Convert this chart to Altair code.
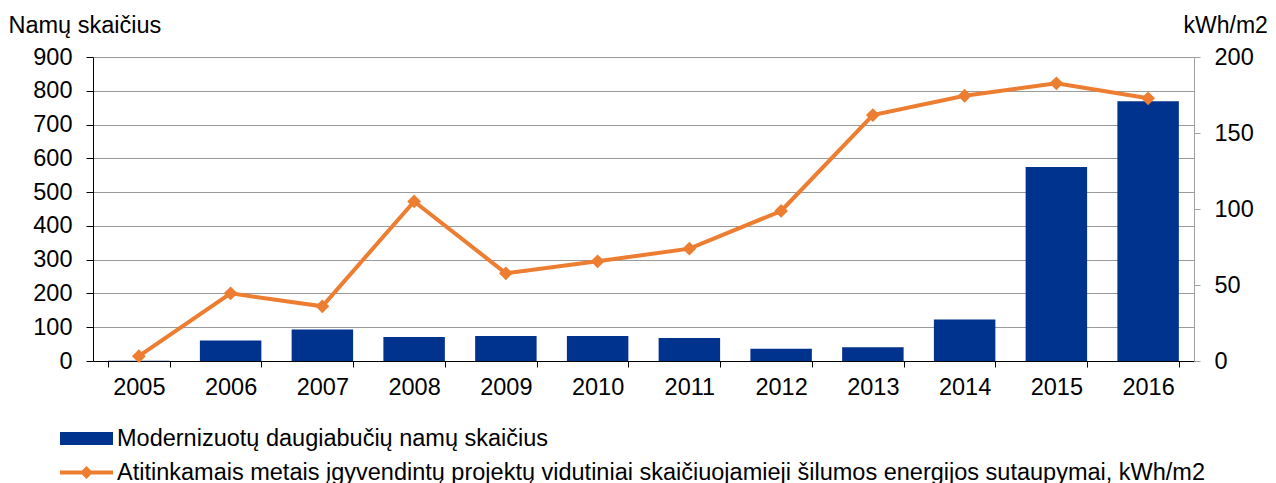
import altair as alt
import pandas as pd

years = ["2005", "2006", "2007", "2008", "2009", "2010", "2011", "2012", "2013", "2014", "2015", "2016"]
houses = [1, 61, 93, 71, 74, 74, 68, 36, 41, 123, 574, 769]
savings = [3.2, 44.5, 36, 105, 57.7, 65.6, 73.9, 98.7, 161.8, 174.5, 182.7, 172.8]

bar_label = "Modernizuotų daugiabučių namų skaičius"
line_label = "Atitinkamais metais įgyvendintų projektų vidutiniai skaičiuojamieji šilumos energijos sutaupymai, kWh/m2"

left_title = "Namų skaičius"
right_title = "kWh/m2"

BLUE = "#00338d"
ORANGE = "#ed7d31"
FONT = "Liberation Sans"
FS = 23.5

df = pd.DataFrame({"year": years, "houses": houses, "savings": savings,
                   "s1": bar_label, "s2": line_label})

x = alt.X("year:O",
          scale=alt.Scale(paddingInner=0.33, paddingOuter=0.165),
          axis=alt.Axis(title=None, labelAngle=0, tickBand="extent", labelFontSize=FS,
                        labelColor="#000", tickSize=6, tickColor="#000", domainColor="#000",
                        labelPadding=8, grid=False))

bars = alt.Chart(df).mark_bar().encode(
    x=x,
    y=alt.Y("houses:Q",
            scale=alt.Scale(domain=[0, 900], nice=False),
            axis=alt.Axis(values=list(range(0, 901, 100)), title=left_title, titleAngle=0,
                          titleAlign="left", titleBaseline="alphabetic", titleX=-85, titleY=-25,
                          titleFontSize=FS, titleFontWeight="normal", titleColor="#000",
                          labelFontSize=FS, labelColor="#000", tickSize=7, tickColor="#000",
                          domainColor="#000", gridColor="#9a9a9a", labelPadding=14)),
    color=alt.Color("s1:N", scale=alt.Scale(domain=[bar_label], range=[BLUE]),
                    legend=alt.Legend(title=None, orient="none", legendX=-33, legendY=355,
                                      symbolType="M-1,-0.245H1V0.245H-1Z", symbolSize=2809,
                                      symbolStrokeWidth=0, labelFontSize=FS, labelColor="#000",
                                      labelLimit=0, labelOffset=4, padding=0)),
)

line = alt.Chart(df).mark_line(strokeWidth=4,
                               point=alt.OverlayMarkDef(shape="diamond", size=190, filled=True)).encode(
    x=x,
    y=alt.Y("savings:Q",
            scale=alt.Scale(domain=[0, 200], nice=False),
            axis=alt.Axis(orient="right", values=[0, 50, 100, 150, 200], title=right_title,
                          titleAngle=0, titleAlign="left", titleBaseline="alphabetic",
                          titleX=-11, titleY=-25, titleFontSize=23, titleFontWeight="normal",
                          titleColor="#000", labelFontSize=FS, labelColor="#000", tickSize=6,
                          tickColor="#a0a0a0", domainColor="#a0a0a0", grid=False,
                          labelPadding=14)),
    color=alt.Color("s2:N", scale=alt.Scale(domain=[line_label], range=[ORANGE]),
                    legend=alt.Legend(title=None, orient="none", legendX=-33, legendY=389,
                                      symbolType="M-1,-0.075H1V0.075H-1ZM0,-0.245L0.245,0L0,0.245L-0.245,0Z",
                                      symbolSize=2809, symbolFillColor=ORANGE,
                                      symbolStrokeWidth=0, labelFontSize=FS, labelColor="#000",
                                      labelLimit=0, labelOffset=4, padding=0)),
)

chart = alt.layer(bars, line).resolve_scale(y="independent", color="independent").properties(
    width=1101, height=304,
    autosize=alt.AutoSizeParams(type="none"),
    padding={"left": 85, "top": 49, "right": 74, "bottom": 125},
).configure(font=FONT).configure_view(stroke=None)

chart.save("out.html", embed_options={"renderer": "svg", "actions": False})
